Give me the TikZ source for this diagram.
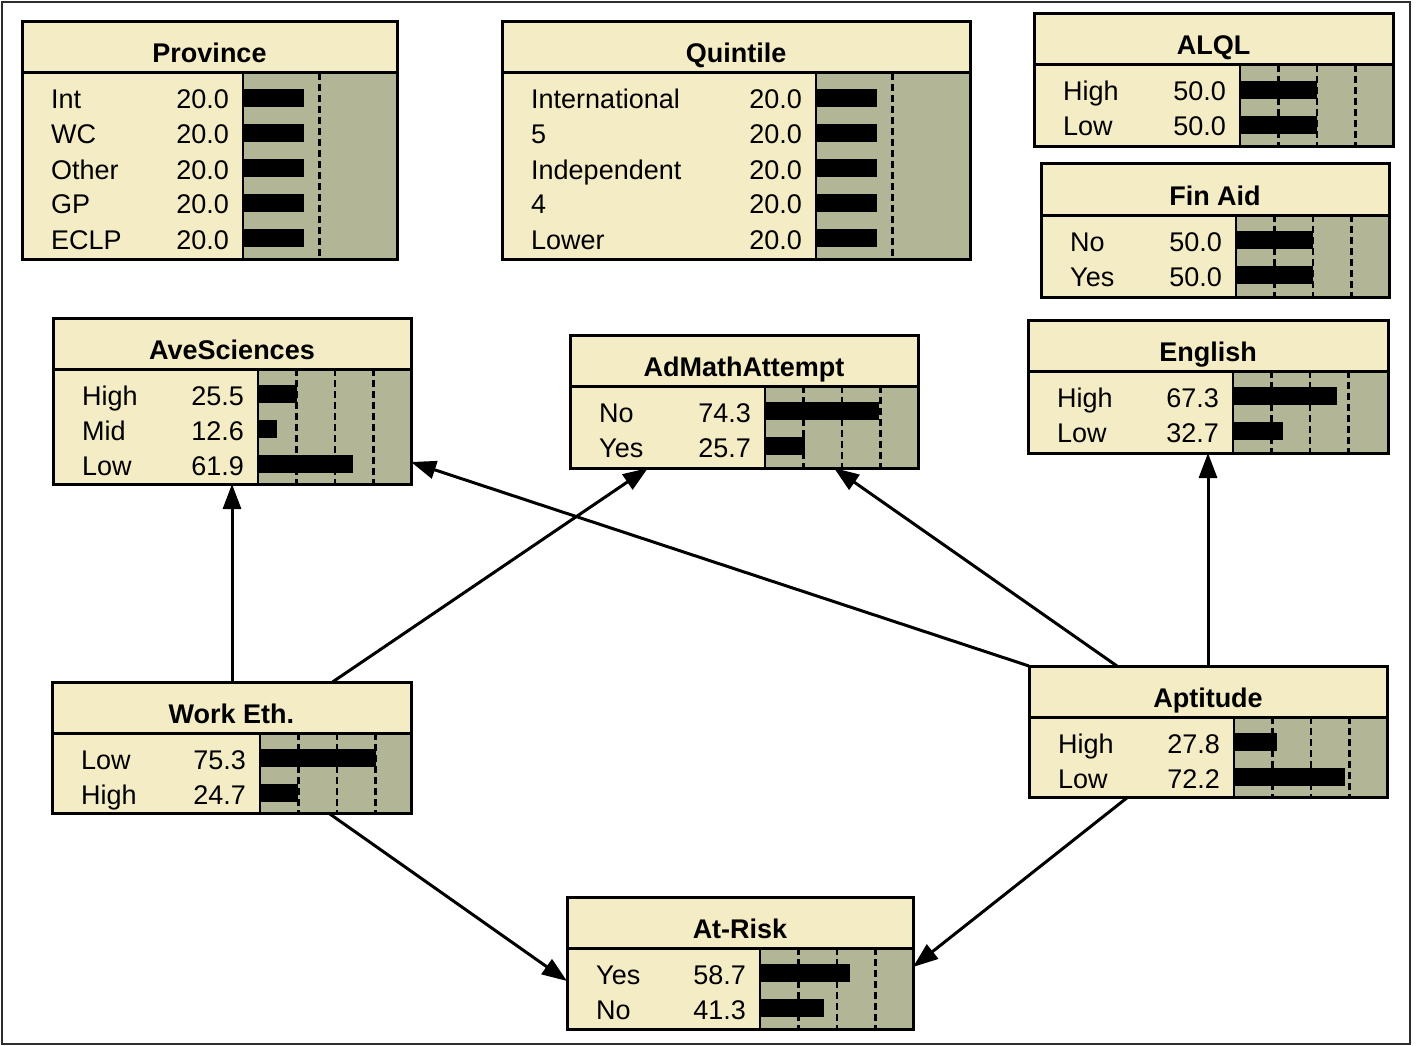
\documentclass[tikz,border=0pt]{standalone}
\usepackage{fontspec}
\setmainfont{Liberation Sans}
\usetikzlibrary{arrows.meta, calc}
\definecolor{nodeyellow}{RGB}{243,236,197}
\definecolor{barolive}{RGB}{178,182,150}
\definecolor{framegray}{RGB}{45,45,45}

\tikzset{
  netfill/.style={rectangle, fill=nodeyellow, draw=none, inner sep=0pt, outer sep=0pt},
  netline/.style={line width=3pt, draw=black},
  nettick/.style={line width=2.5pt, dash pattern=on 7pt off 4pt},
  netlabel/.style={inner sep=0pt, font=\fontsize{27}{30}\selectfont},
  nettitle/.style={inner sep=0pt, anchor=base, font=\fontsize{27}{30}\selectfont\bfseries},
  link/.style={line width=3pt, -{Triangle[length=25pt,width=18pt]}}
}

% #1 name, #2 left, #3 top, #4 right, #5 bottom, #6 bar start, #7 bar length of 100%, #8 title, #9 states
\newcommand{\netnode}[9]{
  \node[netfill, minimum width={(#4-#2)*1pt}, minimum height={(#5-#3)*1pt}] (#1) at ({(#2+#4)/2},{(#3+#5)/2}) {};
  \node[nettitle] (#1-title) at ({(#2+#4)/2},{#3+41}) {#8};
  % bar area with ticks
  \fill[barolive] (#6,{#3+51}) rectangle (#4,#5);
  \begin{scope}
    \clip (#6,{#3+51}) rectangle ({#4-4},#5);
    \foreach \k in {1,2,3}
      \draw[nettick] ({#6+\k*#7/4},{#3+51}) -- ({#6+\k*#7/4},#5);
  \end{scope}
  \draw[line width=2pt] (#6,{#3+51}) -- (#6,#5);
  \draw[line width=3pt] (#2,{#3+51}) -- (#4,{#3+51});
  % states
  \foreach \lab/\val [count=\i] in {#9} {
    \pgfmathsetmacro\rowy{#3+87+35*(\i-1)}
    \node[netlabel, anchor=base west] (#1-l\i) at ({#2+29},\rowy) {\lab};
    \node[netlabel, anchor=base east] (#1-v\i) at ({#6-14},\rowy) {\val};
    \fill (#6,{\rowy-20}) rectangle ({#6+\val*#7/100},{\rowy-2});
  }
  \draw[netline] (#1.north west) rectangle (#1.south east);
}

\begin{document}
\begin{tikzpicture}[x=1pt, y=-1pt]
\useasboundingbox (0,0) rectangle (1417,1046);
\draw[line width=1.5pt, framegray] (2,2) rectangle (1410,1044);

% top row
\netnode{prov}{22}{22}{397}{259}{243}{305}{Province}{Int/20.0, WC/20.0, Other/20.0, GP/20.0, ECLP/20.0}
\netnode{quin}{502}{22}{970}{259}{816}{305}{Quintile}{International/20.0, 5/20.0, Independent/20.0, 4/20.0, Lower/20.0}
\netnode{alql}{1034}{14}{1393}{147}{1240}{154}{ALQL}{High/50.0, Low/50.0}
\netnode{fin}{1041}{164}{1389}{297}{1236}{154}{Fin Aid}{No/50.0, Yes/50.0}

% middle row
\netnode{avs}{53}{318}{411}{484}{258}{154}{AveSciences}{High/25.5, Mid/12.6, Low/61.9}
\netnode{adm}{570}{335}{918}{468}{765}{154}{AdMathAttempt}{No/74.3, Yes/25.7}
\netnode{eng}{1028}{320}{1388}{453}{1233}{154}{English}{High/67.3, Low/32.7}

% lower row
\netnode{wrk}{52}{682}{411}{813}{260}{154}{Work Eth.}{Low/75.3, High/24.7}
\netnode{apt}{1029}{666}{1387}{797}{1234}{154}{Aptitude}{High/27.8, Low/72.2}
\netnode{atr}{567}{897}{913}{1029}{760}{154}{At-Risk}{Yes/58.7, No/41.3}

% links
\draw[link] (wrk.north -| avs.south) -- (avs.south);
\draw[link] ([xshift=101pt]wrk.north) -- ([xshift=-96pt]adm.south);
\draw[link] (apt.north west) -- ([yshift=22pt]avs.south east);
\draw[link] ([xshift=-91pt]apt.north) -- ([xshift=90pt]adm.south);
\draw[link] (apt.north) -- (eng.south);
\draw[link] ([xshift=97pt]wrk.south) -- ([yshift=-18pt]atr.west);
\draw[link] ([xshift=-80pt]apt.south) -- ([yshift=-4pt]atr.east);
\end{tikzpicture}
\end{document}
